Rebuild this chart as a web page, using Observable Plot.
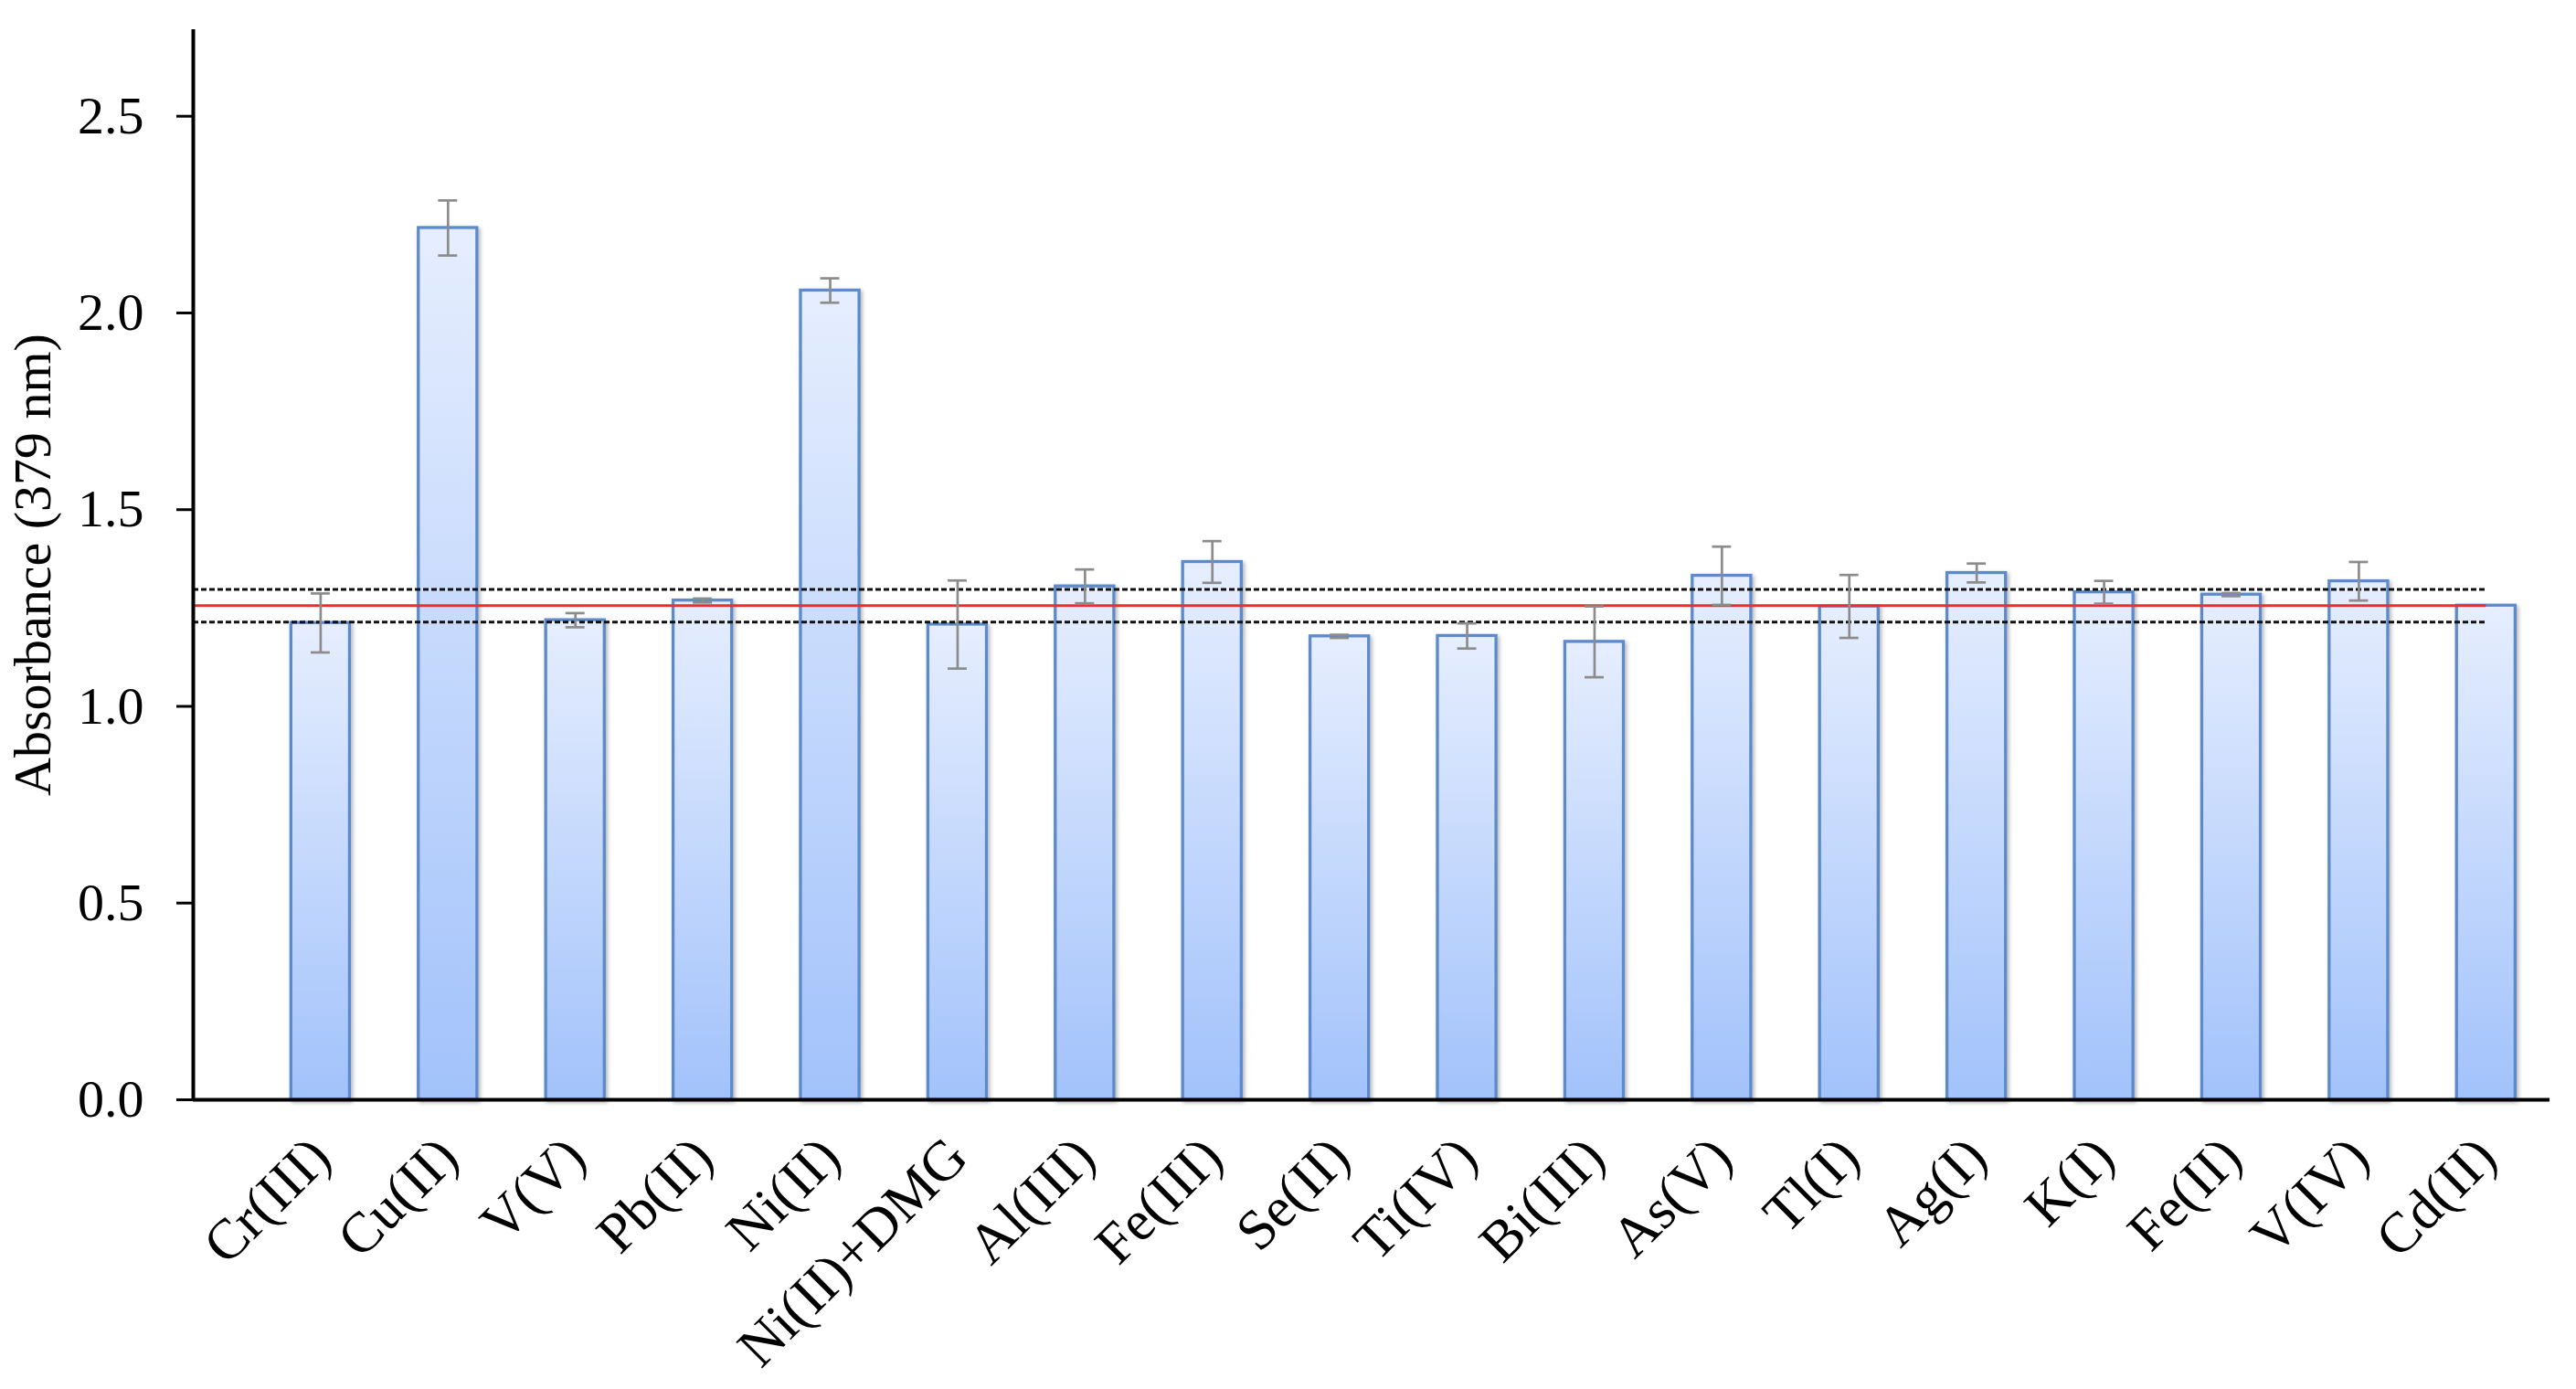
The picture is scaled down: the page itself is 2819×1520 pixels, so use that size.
<!DOCTYPE html>
<html>
<head>
<meta charset="utf-8">
<script src="https://cdn.jsdelivr.net/npm/d3@7"></script>
<script src="https://cdn.jsdelivr.net/npm/@observablehq/plot@0.6"></script>
<style>
  body { margin: 0; background: #fff; }
  #chart svg { display: block; }
</style>
</head>
<body>
<div id="chart"></div>
<script>
const categories = ["Cr(III)", "Cu(II)", "V(V)", "Pb(II)", "Ni(II)", "Ni(II)+DMG", "Al(III)", "Fe(III)", "Se(II)",
  "Ti(IV)", "Bi(III)", "As(V)", "Tl(I)", "Ag(I)", "K(I)", "Fe(II)", "V(IV)", "Cd(II)"];
const values = [1.212, 2.216, 1.219, 1.269, 2.057, 1.208, 1.305, 1.367, 1.178,
  1.179, 1.164, 1.332, 1.254, 1.339, 1.290, 1.284, 1.318, 1.256];
const errors = [0.075, 0.070, 0.018, 0.005, 0.031, 0.112, 0.043, 0.053, 0.004,
  0.032, 0.090, 0.074, 0.080, 0.024, 0.029, 0.004, 0.049, 0.000];
const meanLine = 1.256;
const upperLine = 1.297;
const lowerLine = 1.214;
const yTicks = [0, 0.5, 1.0, 1.5, 2.0, 2.5];
const yLabel = "Absorbance (379 nm)";

const data = categories.map((c, i) => ({cat: c, i, value: values[i], err: errors[i]}));
const lastIndex = categories.length - 1;
const refLines = [
  {y: upperLine, x1: -1, x2: lastIndex, kind: "dash"},
  {y: lowerLine, x1: -1, x2: lastIndex, kind: "dash"},
  {y: meanLine, x1: -1, x2: lastIndex, kind: "mean"}
];
const errData = data.filter(d => d.err > 0);

const plot = Plot.plot({
  width: 2819,
  height: 1520,
  marginLeft: 211,
  marginRight: 29,
  marginTop: 32,
  marginBottom: 317,
  x: {type: "linear", domain: [-1, 17.5]},
  y: {domain: [0, 2.72]},
  style: {fontFamily: "'Liberation Serif', 'Times New Roman', serif", fontSize: "58px", color: "#000", background: "#fff"},
  marks: [
    Plot.rectY(data, {
      x1: d => d.i - 0.23, x2: d => d.i + 0.23, y: "value",
      fill: "url(#barGrad)", stroke: "#5b8acb", strokeWidth: 3.3
    }),
    Plot.ruleY(refLines.filter(d => d.kind === "dash"), {
      y: "y", x1: "x1", x2: "x2", stroke: "#111", strokeWidth: 3, strokeDasharray: "6,3"
    }),
    Plot.ruleY(refLines.filter(d => d.kind === "mean"), {
      y: "y", x1: "x1", x2: "x2", stroke: "#f52a2a", strokeWidth: 3
    }),
    Plot.ruleX(errData, {
      x: "i", y1: d => d.value - d.err, y2: d => d.value + d.err, stroke: "#8c8c8c", strokeWidth: 2.7
    }),
    Plot.ruleY(errData, {
      y: d => d.value + d.err, x1: d => d.i - 0.075, x2: d => d.i + 0.075, stroke: "#8c8c8c", strokeWidth: 2.7
    }),
    Plot.ruleY(errData, {
      y: d => d.value - d.err, x1: d => d.i - 0.075, x2: d => d.i + 0.075, stroke: "#8c8c8c", strokeWidth: 2.7
    }),
    Plot.axisY({
      ticks: yTicks, tickFormat: d3.format(".1f"), tickSize: 18, tickPadding: 36, strokeWidth: 3,
      label: yLabel, labelAnchor: "center", labelArrow: "none", labelOffset: 198, fontSize: 58
    }),
    Plot.axisX({
      ticks: data.map(d => d.i), tickFormat: i => categories[i], tickRotate: -45,
      tickSize: 0, tickPadding: 52, label: null, fontSize: 62
    }),
    Plot.ruleY([0], {stroke: "#000", strokeWidth: 4}),
    Plot.ruleX([-1], {stroke: "#000", strokeWidth: 4})
  ]
});

const defs = document.createElementNS("http://www.w3.org/2000/svg", "defs");
defs.innerHTML = `
  <linearGradient id="barGrad" x1="0" y1="0" x2="0" y2="1">
    <stop offset="0" stop-color="#e6eefe"/>
    <stop offset="1" stop-color="#a2c2fb"/>
  </linearGradient>
  <filter id="barShadow" x="-20%" y="-5%" width="140%" height="110%">
    <feDropShadow dx="2" dy="2" stdDeviation="2" flood-color="#000" flood-opacity="0.3"/>
  </filter>`;
plot.insertBefore(defs, plot.firstChild);
const rectGroup = plot.querySelector('g[aria-label="rect"]');
if (rectGroup) rectGroup.setAttribute("filter", "url(#barShadow)");

document.getElementById("chart").appendChild(plot);
</script>
</body>
</html>
